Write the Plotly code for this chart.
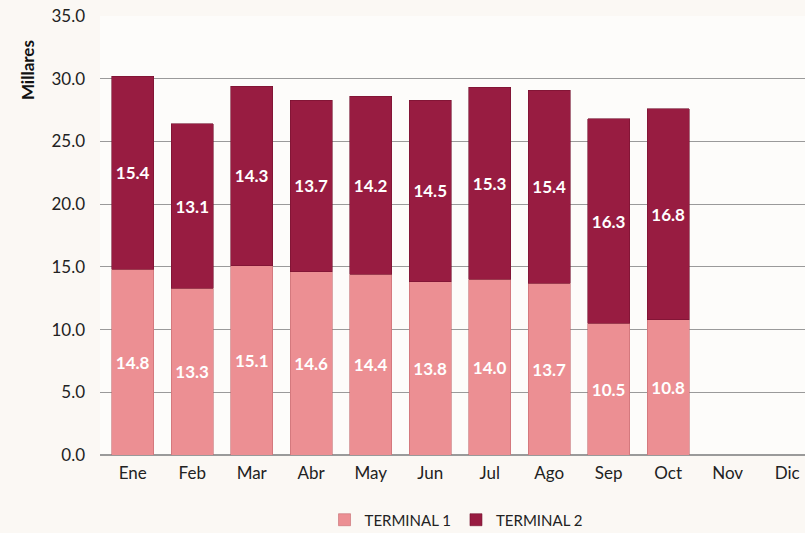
import plotly.graph_objects as go

meses = ["Ene", "Feb", "Mar", "Abr", "May", "Jun", "Jul", "Ago", "Sep", "Oct", "Nov", "Dic"]
terminal1 = [14.8, 13.3, 15.1, 14.6, 14.4, 13.8, 14.0, 13.7, 10.5, 10.8, None, None]
terminal2 = [15.4, 13.1, 14.3, 13.7, 14.2, 14.5, 15.3, 15.4, 16.3, 16.8, None, None]

def etiquetas(vals):
    return [f"{v:.1f}" if v is not None else "" for v in vals]

fig = go.Figure()

fig.add_trace(go.Bar(
    x=meses, y=terminal1, name="TERMINAL 1",
    marker=dict(color="#ec8f93", line=dict(color="#c46a70", width=0.6)),
    text=etiquetas(terminal1), textposition="inside", insidetextanchor="middle",
    textfont=dict(color="white", size=17, family="Lato", weight="bold"),
    textangle=0,
))
fig.add_trace(go.Bar(
    x=meses, y=terminal2, name="TERMINAL 2",
    marker=dict(color="#981c41", line=dict(color="#74102e", width=0.6)),
    text=etiquetas(terminal2), textposition="inside", insidetextanchor="middle",
    textfont=dict(color="white", size=17, family="Lato", weight="bold"),
    textangle=0,
))

# titulo del eje arriba a la izquierda, como en el original
fig.add_annotation(text="<b>Millares</b>", xref="paper", yref="paper",
                   x=-0.102, y=0.877, xanchor="center", yanchor="middle",
                   textangle=-90, showarrow=False,
                   font=dict(size=17, color="#111"))

fig.update_layout(
    barmode="stack",
    bargap=0.29,
    width=805, height=533,
    margin=dict(l=100, r=0, t=16, b=78, autoexpand=False),
    paper_bgcolor="#fbf8f4",
    plot_bgcolor="#fdfcfa",
    font=dict(family="Lato", size=16, color="#222"),
    legend=dict(orientation="h", x=0.505, xanchor="center", y=-0.148, yanchor="middle",
                font=dict(size=15, color="#222"), traceorder="normal"),
    xaxis=dict(range=[-0.55, 11.3], showgrid=False, ticks="", tickfont=dict(size=17),
               ticklabelstandoff=6),
    yaxis=dict(range=[0, 35], dtick=5, tickformat=".1f", gridcolor="#9a9a9a", gridwidth=1.2,
               showline=False, zeroline=True, zerolinecolor="#9a9a9a", zerolinewidth=1.5,
               ticks="", tickfont=dict(size=17), ticklabelstandoff=14),
)

fig.write_html("out.html", config={"displayModeBar": False},
               post_script="document.body.style.margin='0';")
